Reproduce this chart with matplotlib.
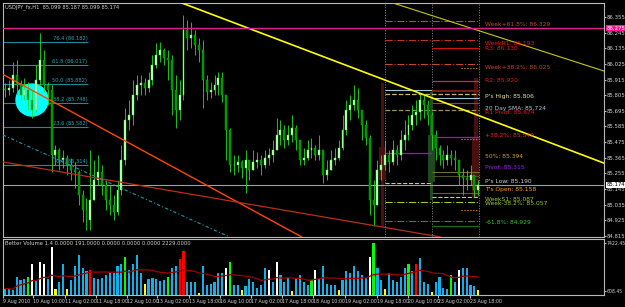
import numpy as np
import pandas as pd
import matplotlib
matplotlib.use("Agg")
import matplotlib.pyplot as plt
from matplotlib import font_manager
from matplotlib.patches import Ellipse, Rectangle

# hourly-ish candles, USDJPY
close = [85.841, 85.856, 85.947, 85.877, 85.806, 85.841, 85.771, 85.701, 85.912, 86.053,
         85.877, 85.841, 85.384, 85.419, 85.349, 85.363, 85.313, 85.278, 85.264, 85.102,
         84.997, 84.926, 85.067, 85.208, 85.264, 85.173, 85.067, 85.032, 84.983, 85.137,
         85.349, 85.630, 85.665, 85.806, 85.877, 85.891, 85.856, 85.912, 86.017, 86.088,
         86.123, 86.067, 86.053, 85.841, 85.701, 85.806, 86.264, 86.207, 86.229, 86.158,
         86.123, 85.912, 85.827, 85.841, 85.877, 85.926, 85.806, 85.560, 85.313, 85.313,
         85.335, 85.292, 85.349, 85.278, 85.335, 85.349, 85.313, 85.363, 85.384, 85.419,
         85.525, 85.560, 85.489, 85.525, 85.574, 85.489, 85.349, 85.363, 85.419, 85.433,
         85.384, 85.419, 85.243, 85.278, 85.349, 85.363, 85.433, 85.560, 85.701, 85.736,
         85.771, 85.701, 85.595, 85.503, 85.067, 85.032, 85.278, 85.313, 85.384, 85.335,
         85.419, 85.384, 85.489, 85.525, 85.595, 85.665, 85.687, 85.771, 85.736, 85.665,
         85.525, 85.433, 85.384, 85.349, 85.384, 85.363, 85.349, 85.243, 85.222, 85.208,
         85.243, 85.137, 85.174]
high = [85.891, 85.912, 86.039, 86.053, 85.912, 85.926, 85.898, 85.841, 86.017, 86.243,
        86.123, 85.898, 85.877, 85.454, 85.433, 85.419, 85.384, 85.363, 85.335, 85.278,
        85.137, 85.081, 85.419, 85.349, 85.384, 85.313, 85.208, 85.173, 85.102, 85.208,
        85.454, 85.715, 85.771, 85.912, 85.947, 85.947, 85.926, 85.968, 86.088, 86.172,
        86.179, 86.137, 86.123, 86.088, 85.947, 85.912, 86.369, 86.334, 86.320, 86.264,
        86.207, 86.193, 85.947, 85.898, 85.947, 85.968, 85.968, 85.806, 85.575, 85.384,
        85.384, 85.349, 85.419, 85.349, 85.419, 85.405, 85.384, 85.419, 85.433, 85.489,
        85.644, 85.630, 85.595, 85.595, 85.665, 85.595, 85.489, 85.433, 85.489, 85.503,
        85.454, 85.525, 85.419, 85.349, 85.419, 85.433, 85.489, 85.665, 85.771, 85.806,
        85.877, 85.856, 85.701, 85.630, 85.525, 85.208, 85.349, 85.384, 85.489, 85.419,
        85.489, 85.454, 85.560, 85.630, 85.665, 85.736, 85.771, 85.820, 85.813, 85.771,
        85.687, 85.560, 85.454, 85.419, 85.454, 85.419, 85.419, 85.349, 85.292, 85.278,
        85.313, 85.243, 85.208]
low = [85.792, 85.806, 85.827, 85.806, 85.771, 85.771, 85.701, 85.644, 85.687, 85.877,
       85.827, 85.736, 85.264, 85.313, 85.278, 85.292, 85.243, 85.208, 85.151, 85.032,
       84.912, 84.856, 84.856, 85.102, 85.173, 85.102, 84.997, 84.961, 84.926, 84.961,
       85.102, 85.313, 85.560, 85.595, 85.771, 85.806, 85.806, 85.827, 85.877, 85.996,
       86.039, 86.017, 85.912, 85.665, 85.574, 85.630, 85.771, 86.123, 86.137, 86.088,
       86.039, 85.715, 85.771, 85.785, 85.806, 85.806, 85.757, 85.349, 85.264, 85.243,
       85.264, 85.222, 85.116, 85.208, 85.278, 85.292, 85.243, 85.292, 85.313, 85.335,
       85.419, 85.454, 85.433, 85.454, 85.475, 85.419, 85.313, 85.313, 85.349, 85.363,
       85.349, 85.349, 85.187, 85.208, 85.278, 85.313, 85.349, 85.419, 85.525, 85.630,
       85.701, 85.644, 85.489, 85.454, 84.961, 84.884, 85.032, 85.208, 85.278, 85.264,
       85.313, 85.313, 85.349, 85.419, 85.489, 85.560, 85.595, 85.630, 85.644, 85.595,
       85.419, 85.349, 85.313, 85.292, 85.313, 85.313, 85.278, 85.173, 85.102, 85.137,
       85.173, 85.088, 85.102]
first_open = 85.850

volume = [900, 900, 700, 2600, 2200, 2300, 2600, 4400, 2000, 4800,
          4400, 2300, 6900, 900, 1900, 4500, 900, 2200, 4200, 5700,
          3900, 3400, 3600, 2500, 2300, 2500, 2800, 3200, 3100, 4200,
          4400, 5500, 3600, 4500, 5800, 3100, 1600, 2300, 2500, 2300,
          2000, 2200, 2600, 3800, 4100, 5100, 6300, 1800, 1800, 1900,
          300, 4200, 1500, 1600, 1800, 3200, 3100, 3800, 4800, 1500,
          1500, 700, 1300, 2300, 1900, 1000, 1500, 3900, 3600, 1900,
          4800, 2800, 1800, 2500, 600, 2500, 2800, 1800, 1500, 2200,
          3600, 2300, 4200, 1600, 1500, 1500, 700, 2200, 3500, 3200,
          4200, 3400, 2900, 2500, 5500, 7400, 3900, 2200, 900, 3100,
          2200, 1800, 2600, 3900, 4500, 3400, 4400, 5300, 1900, 1600,
          400, 1900, 2600, 1000, 900, 2900, 1800, 3600, 3800, 3900,
          1500, 1300, 700]
vol_kind = ("bbbbbbgwbw" "wbwybbybbb" "bbrbbbbbbb" "bgbbbbybbb" "bbgbbrrbbb"
            "ybbbbbbwgb" "bybbbbbbwb" "wbbbybbbbg" "wbbbbbybbb" "bbbbwgbbyb"
            "bbbbgbrbbb" "ybbbbgbwbb" "bby")

time_labels = ["9 Aug 2010", "10 Aug 10:00", "11 Aug 02:00", "11 Aug 18:00", "12 Aug 10:00",
               "13 Aug 02:00", "13 Aug 18:00", "16 Aug 10:00", "17 Aug 02:00", "17 Aug 18:00",
               "18 Aug 10:00", "19 Aug 02:00", "19 Aug 18:00", "20 Aug 10:00", "23 Aug 02:00",
               "23 Aug 18:00"]
time_pos = [-0.5, 7.2, 15.5, 23.5, 31.4, 39.2, 47.4, 55.4, 63.4, 71.4, 79.4, 87.6, 95.9,
            103.9, 111.6, 119.8]
price_ticks = [86.355, 86.245, 86.135, 86.025, 85.915, 85.805, 85.695, 85.585, 85.475,
               85.365, 85.255, 85.145, 85.035, 84.925, 84.815]

fib_levels = ["76.4", "61.8", "50.0", "38.2", "23.6", "0.0"]
fib_prices = [86.182, 86.017, 85.882, 85.748, 85.582, 85.314]

# daily candles drawn by the pivot indicator
day_x = [97.4, 110.0, 121.4]
day_open = [85.440, 85.194, 85.511]
day_close = [85.208, 85.525, 85.088]
day_high = [85.891, 85.827, 85.926]
day_low = [84.877, 85.067, 85.081]

# pivot / weekly levels: price, start, end, colour, style, width
levels = [
    (86.454, 110.0, 122.2, "#C83030", "-", 0.9),
    (86.329, 97.9, 122.2, "#C8462D", "-.", 0.8),
    (86.193, 97.9, 122.2, "#C03020", "-.", 0.8),
    (86.137, 110.0, 122.2, "#D01010", "-", 0.9),
    (86.025, 97.9, 122.2, "#C8462D", "-.", 0.8),
    (85.996, 117.5, 122.2, "#E0A020", ":", 0.8),
    (85.905, 110.0, 122.2, "#D03030", "-", 0.9),
    (85.841, 97.9, 110.0, "#A0C8D8", "-", 0.8),
    (85.834, 110.0, 122.2, "#7A1A1A", "-", 1.4),
    (85.813, 97.9, 122.2, "#C8B878", "--", 0.9),
    (85.785, 110.0, 122.2, "#A0C8D8", "-", 0.8),
    (85.750, 110.0, 122.2, "#C03030", "-", 0.8),
    (85.701, 97.9, 122.2, "#A09060", "--", 0.9),
    (85.511, 110.0, 122.2, "#C000C0", "-", 0.9),
    (85.496, 117.5, 122.2, "#E0A020", ":", 0.8),
    (85.398, 97.9, 110.0, "#C000C0", "-", 0.9),
    (85.264, 110.0, 122.2, "#707030", "-", 0.8),
    (85.236, 110.0, 122.2, "#505020", "-", 0.8),
    (85.187, 97.9, 110.0, "#C8C8A0", "--", 0.8),
    (85.116, 110.0, 122.2, "#606030", "-", 0.8),
    (85.088, 110.0, 122.2, "#C8C8A0", "--", 0.8),
    (85.053, 97.9, 122.2, "#9ACD32", "-.", 0.8),
    (84.997, 117.5, 122.2, "#E0A020", ":", 0.8),
    (84.919, 97.9, 122.2, "#2E8B2E", "-.", 0.8),
    (84.884, 110.0, 122.2, "#1E6B1E", "-", 0.9),
]
level_text = [
    ("Week+61.8%: 86.329", 86.306, "#C8462D"),
    ("WeekR1: 86.193", 86.172, "#E02020"),
    ("R3: 86.130", 86.137, "#E02020"),
    ("Week+38.2%: 86.025", 86.003, "#C8462D"),
    ("R2: 85.920", 85.905, "#E02020"),
    ("P's High: 85.806", 85.799, "#E0E0A0"),
    ("20 Day SMA: 85.724", 85.714, "#B0C4DE"),
    ("R1 Pivot: 85.674", 85.680, "#E02020"),
    ("+38.2%: 85.549", 85.518, "#E03030"),
    ("50%: 85.394", 85.377, "#D0A040"),
    ("Pivot: 85.315", 85.299, "#A020F0"),
    ("P's Low: 85.190", 85.196, "#D0D0D0"),
    ("T's Open: 85.158", 85.140, "#FFA500"),
    ("WeekS1: 85.087", 85.070, "#9ACD32"),
    ("Week-38.2%: 85.057", 85.040, "#9ACD32"),
    ("-61.8%: 84.929", 84.912, "#32CD32"),
]

names = {f.name for f in font_manager.fontManager.ttflist}
plt.rcParams["font.family"] = ["Liberation Sans Narrow" if "Liberation Sans Narrow" in names
                               else "DejaVu Sans"]

close = np.array(close)
high = np.array(high)
low = np.array(low)
volume = np.array(volume)
n = len(close)
idx = np.arange(n)
opens = np.r_[first_open, close[:-1]]
high = np.maximum(high, np.maximum(opens, close))
low = np.minimum(low, np.minimum(opens, close))

W, H = 625, 307
def box(x0, y0, x1, y1):
    return [x0 / W, 1 - y1 / H, (x1 - x0) / W, (y1 - y0) / H]

fig = plt.figure(figsize=(6.25, 3.07), dpi=100, facecolor="black")
ax = fig.add_axes(box(3, 3, 604, 237))
axv = fig.add_axes(box(3, 239, 604, 295))
grey = "#D0D0D0"

for a in (ax, axv):
    a.set_facecolor("black")
    a.set_xlim(-0.52, 154.4)
    for s in a.spines.values():
        s.set_color("#B8B8B8")
        s.set_linewidth(0.8)

ax.set_ylim(84.807, 86.454)

# day separators and daily candles
for x in [97.9, 110.05, 122.2]:
    ax.axvline(x, color="#8C8C8C", ls=":", lw=0.7, zorder=1)
for x, o, c, hi, lo in zip(day_x, day_open, day_close, day_high, day_low):
    col = "#1F4A1F" if c > o else "#4A1010"
    ax.add_patch(Rectangle((x - 0.4, lo), 0.8, hi - lo, color=col, lw=0, zorder=1))
    ax.add_patch(Rectangle((x - 0.9, min(o, c)), 1.8, abs(c - o), color=col, lw=0, zorder=1))

# fibonacci block + circle
ax.hlines(fib_prices, -0.52, 21.4, color="#1A8C9C", lw=0.8, zorder=2)
for lv, p in zip(fib_levels, fib_prices):
    ax.text(21.2, p + 0.008, f"{lv} ({p:.3f})", ha="right", va="bottom",
            color="#20A8B8", fontsize=3.7, zorder=6)
ax.add_patch(Ellipse((6.96, 85.771), 8.25, 0.225, color="#00FFFF", zorder=2))

# trend lines
ax.axline((-0.52, 85.951), (52.8, 85.159), color="#FF4500", lw=1.0, zorder=5)
ax.axline((-0.52, 85.335), (101.8, 84.856), color="#B8301A", lw=0.9, zorder=5)
ax.axline((-0.52, 85.525), (52.8, 84.870), color="#1B9AAA", lw=0.8,
          ls=(0, (3, 2, 1, 2)), zorder=5)
ax.axline((45.6, 86.454), (154.4, 85.327), color="#FFFF00", lw=1.2, zorder=5)
ax.axline((100.0, 86.454), (154.4, 85.975), color="#C8C800", lw=0.8, zorder=5)
ax.axhline(86.275, color="#E0208A", lw=1.0, zorder=5)
ax.axhline(85.174, color="#A0A0A0", lw=0.8, zorder=2)

# candles
up = close >= opens
ax.vlines(idx, low, high, color="#20E020", lw=0.6, zorder=3)
body = np.maximum(np.abs(close - opens), 0.003)
ax.bar(idx[up], body[up], bottom=opens[up], width=0.5, color="#C8FFC0",
       edgecolor="#40FF40", lw=0.3, zorder=4)
ax.bar(idx[~up], body[~up], bottom=close[~up], width=0.5, color="#009000",
       edgecolor="#00C000", lw=0.3, zorder=4)

# pivot levels
for p, x0, x1, col, ls, lw in levels:
    ax.hlines(p, x0, x1, color=col, ls=ls, lw=lw, zorder=2)
for txt, p, col in level_text:
    ax.text(123.7, p, txt, color=col, fontsize=4.3, va="center", ha="left", zorder=6)

ax.text(0.004, 0.993, "USDJPY_fx,H1  85.099 85.187 85.099 85.174", transform=ax.transAxes,
        va="top", ha="left", color=grey, fontsize=3.7)

ax.yaxis.tick_right()
ax.set_yticks(price_ticks)
ax.set_yticklabels([f"{v:.3f}" for v in price_ticks])
ax.tick_params(axis="y", colors="#B8B8B8", labelcolor=grey, labelsize=3.9, length=1.5, pad=0.6)
ax.set_xticks([])
ax.annotate("86.275", xy=(1.0, 86.275), xycoords=("axes fraction", "data"),
            xytext=(1.6, 0), textcoords="offset points", va="center", fontsize=3.9,
            color="white", bbox=dict(boxstyle="square,pad=0.08", fc="#FF1493", ec="none"))
ax.annotate("85.174", xy=(1.0, 85.174), xycoords=("axes fraction", "data"),
            xytext=(1.6, 0), textcoords="offset points", va="center", fontsize=3.9,
            color="black", bbox=dict(boxstyle="square,pad=0.08", fc="white", ec="none"))

# volume panel
vol_colors = {"b": "#12B0E8", "w": "#FFFFFF", "g": "#00FF00", "r": "#FF0000", "y": "#FFFF00"}
axv.bar(idx, volume, width=0.55, color=[vol_colors[k] for k in vol_kind], zorder=2)
vol_ma = pd.Series(volume).rolling(20, min_periods=1).mean()
axv.plot(idx, vol_ma, color="#A00000", lw=0.9, zorder=3)
axv.set_ylim(0, 8030)
axv.yaxis.tick_right()
axv.set_yticks([7422.45, 608.45])
axv.set_yticklabels(["7422.45", "608.45"])
axv.tick_params(axis="y", colors="#B8B8B8", labelcolor=grey, labelsize=3.3, length=1.2, pad=0.4)
axv.text(0.004, 0.97, "Better Volume 1.4 0.0000 191.0000 0.0000 0.0000 0.0000 2229.0000",
         transform=axv.transAxes, va="top", ha="left", color=grey, fontsize=3.8)
axv.set_xticks(time_pos)
axv.set_xticklabels(time_labels)
axv.tick_params(axis="x", colors="#B8B8B8", labelcolor=grey, labelsize=3.4, length=2, pad=1)
for lab in axv.get_xticklabels():
    lab.set_ha("left")

fig.savefig("out.png", dpi=100, facecolor="black")
